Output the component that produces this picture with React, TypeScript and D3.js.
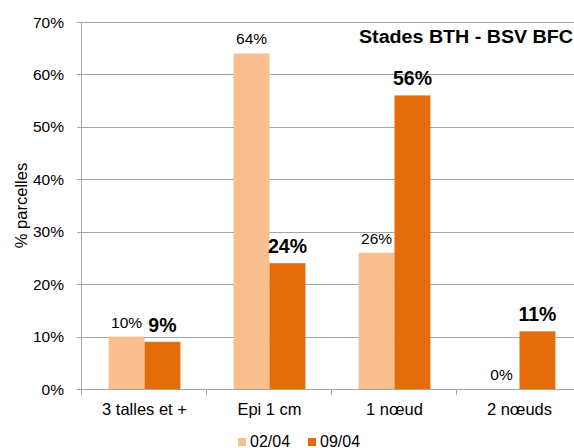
import * as d3 from "d3";
import { useEffect, useRef } from "react";

const categories = ["3 talles et +", "Epi 1 cm", "1 nœud", "2 nœuds"];
const series02 = [10, 64, 26, 0];
const series09 = [9, 24, 56, 11];
const seriesNames = ["02/04", "09/04"];
const yTicks = [0, 10, 20, 30, 40, 50, 60, 70];

const colors = ["#F9BF8F", "#E46C0A"];
const W = 574;
const H = 448;
const margin = { top: 22, right: -8, bottom: 59, left: 82 };

const App = () => {
  const ref = useRef<SVGSVGElement>(null);

  useEffect(() => {
    const svg = d3.select(ref.current);
    svg.selectAll("*").remove();
    const font = "Liberation Sans, Arial, sans-serif";

    const x = d3
      .scaleBand()
      .domain(categories)
      .range([margin.left, W - margin.right]);
    const xs = d3
      .scaleBand()
      .domain(seriesNames)
      .range([0, x.bandwidth()])
      .paddingInner(0)
      .paddingOuter(0.74);
    const y = d3
      .scaleLinear()
      .domain([0, 70])
      .range([H - margin.bottom, margin.top]);

    // grille
    svg
      .append("g")
      .selectAll("line")
      .data(yTicks)
      .join("line")
      .attr("x1", margin.left - 5)
      .attr("x2", W - margin.right)
      .attr("y1", (d) => Math.round(y(d)) + 0.5)
      .attr("y2", (d) => Math.round(y(d)) + 0.5)
      .attr("stroke", "#a6a6a6");

    svg
      .append("g")
      .selectAll("text")
      .data(yTicks)
      .join("text")
      .attr("x", margin.left - 18)
      .attr("y", (d) => y(d) + 5.5)
      .attr("text-anchor", "end")
      .attr("font-family", font)
      .attr("font-size", 15.5)
      .attr("fill", "#000")
      .text((d) => d + "%");

    // axe vertical
    svg
      .append("line")
      .attr("x1", margin.left - 0.5)
      .attr("x2", margin.left - 0.5)
      .attr("y1", y(70))
      .attr("y2", y(0))
      .attr("stroke", "#a6a6a6");

    // ticks axe x
    svg
      .append("g")
      .selectAll("line")
      .data(d3.range(categories.length + 1))
      .join("line")
      .attr("x1", (i) => Math.round(margin.left + i * x.step()) - 0.5)
      .attr("x2", (i) => Math.round(margin.left + i * x.step()) - 0.5)
      .attr("y1", y(0))
      .attr("y2", y(0) + 6)
      .attr("stroke", "#a6a6a6");

    svg
      .append("g")
      .selectAll("text")
      .data(categories)
      .join("text")
      .attr("x", (d) => x(d)! + x.bandwidth() / 2)
      .attr("y", 415)
      .attr("text-anchor", "middle")
      .attr("font-family", font)
      .attr("font-size", 16.5)
      .text((d) => d);

    const groups = [series02, series09];
    groups.forEach((vals, s) => {
      const g = svg.append("g");
      g.selectAll("rect")
        .data(vals)
        .join("rect")
        .attr("x", (_, i) => x(categories[i])! + xs(seriesNames[s])!)
        .attr("y", (d) => y(d))
        .attr("width", xs.bandwidth())
        .attr("height", (d) => y(0) - y(d))
        .attr("fill", colors[s]);

      g.selectAll("text")
        .data(vals)
        .join("text")
        .attr("x", (_, i) => x(categories[i])! + xs(seriesNames[s])! + xs.bandwidth() / 2)
        .attr("y", (d) => (s === 0 ? y(d) - 9 : y(d) - 10))
        .attr("text-anchor", "middle")
        .attr("font-family", font)
        .attr("font-size", s === 0 ? 15.5 : 19.5)
        .attr("font-weight", s === 0 ? "normal" : "bold")
        .text((d) => d + "%");
    });

    // titre
    svg
      .append("text")
      .attr("x", 359)
      .attr("y", 42.5)
      .attr("font-family", font)
      .attr("font-size", 18)
      .attr("font-weight", "bold")
      .attr("textLength", 214)
      .attr("lengthAdjust", "spacingAndGlyphs")
      .text("Stades BTH - BSV BFC");

    // titre axe y
    svg
      .append("text")
      .attr("transform", `translate(27,${(y(0) + y(70)) / 2}) rotate(-90)`)
      .attr("text-anchor", "middle")
      .attr("font-family", font)
      .attr("font-size", 16.5)
      .text("% parcelles");

    // légende
    const legX = [238, 308];
    seriesNames.forEach((n, s) => {
      svg
        .append("rect")
        .attr("x", legX[s])
        .attr("y", 438)
        .attr("width", 8)
        .attr("height", 8)
        .attr("fill", colors[s]);
      svg
        .append("text")
        .attr("x", legX[s] + 12)
        .attr("y", 446.5)
        .attr("font-family", font)
        .attr("font-size", 16)
        .text(n);
    });
  }, []);

  return (
    <div style={{ position: "absolute", left: 0, top: 0 }}>
      <svg ref={ref} width={W} height={H} style={{ display: "block", background: "#fff" }}></svg>
    </div>
  );
};

export default App;
